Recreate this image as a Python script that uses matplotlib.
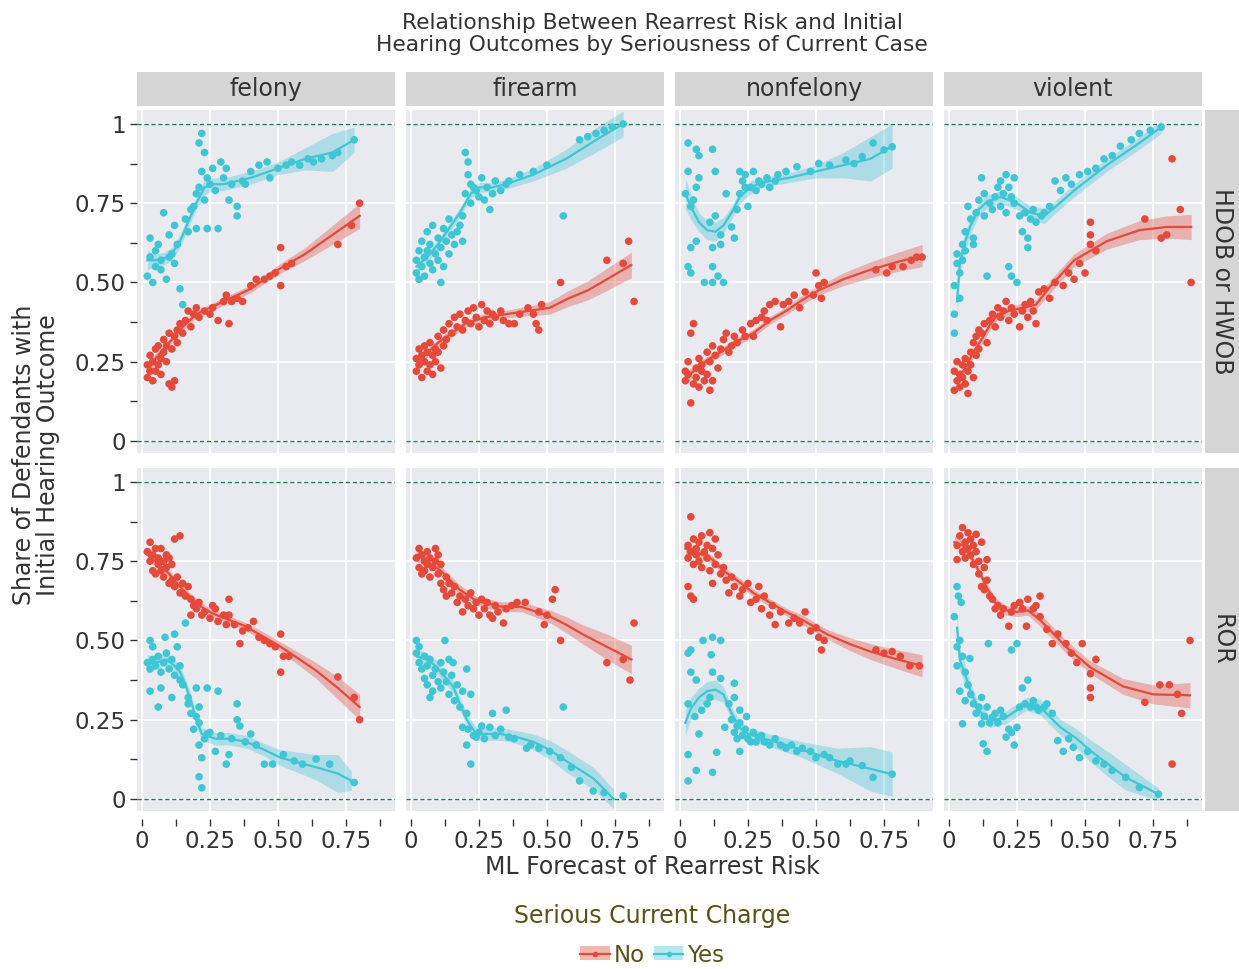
import numpy as np
import matplotlib
matplotlib.use('Agg')
import matplotlib.pyplot as plt
from matplotlib.patches import Patch
from matplotlib.lines import Line2D
from matplotlib.legend_handler import HandlerTuple

######## facets
charges = ['felony', 'firearm', 'nonfelony', 'violent']
outcomes = ['HDOB or HWOB', 'ROR']
groups = ['No', 'Yes']

x_ticks = [0, 0.25, 0.5, 0.75]
x_ticklabels = ['0', '0.25', '0.50', '0.75']
y_ticks = [0, 0.25, 0.5, 0.75, 1]
y_ticklabels = ['0', '0.25', '0.50', '0.75', '1']

######## scatter points (x = forecast, y = share), one list per panel / group
felony_hdob_no = [(0.02,0.20),(0.02,0.24),(0.03,0.22),(0.03,0.27),(0.04,0.19),(0.04,0.25),(0.05,0.29),(0.05,0.22),
    (0.06,0.24),(0.06,0.30),(0.07,0.21),(0.07,0.26),(0.08,0.28),(0.08,0.32),(0.09,0.25),(0.09,0.30),(0.10,0.18),
    (0.10,0.34),(0.11,0.17),(0.11,0.29),(0.12,0.33),(0.12,0.19),(0.13,0.35),(0.13,0.31),(0.14,0.37),(0.15,0.34),
    (0.16,0.38),(0.17,0.41),(0.18,0.36),(0.19,0.40),(0.20,0.42),(0.21,0.39),(0.23,0.41),(0.25,0.40),(0.26,0.42),
    (0.28,0.38),(0.30,0.44),(0.31,0.46),(0.32,0.37),(0.33,0.44),(0.35,0.45),(0.37,0.44),(0.40,0.49),(0.42,0.51),
    (0.45,0.51),(0.47,0.52),(0.49,0.53),(0.51,0.61),(0.51,0.49),(0.53,0.55),(0.55,0.56),(0.72,0.62),(0.77,0.68),
    (0.80,0.75)]
felony_hdob_yes = [(0.02,0.52),(0.03,0.58),(0.03,0.64),(0.04,0.50),(0.05,0.60),(0.05,0.55),(0.06,0.62),(0.07,0.57),
    (0.07,0.54),(0.08,0.72),(0.09,0.51),(0.10,0.58),(0.10,0.65),(0.11,0.59),(0.12,0.68),(0.12,0.56),(0.13,0.62),
    (0.14,0.48),(0.15,0.43),(0.16,0.70),(0.17,0.66),(0.18,0.73),(0.19,0.74),(0.20,0.78),(0.20,0.67),(0.21,0.94),
    (0.21,0.80),(0.22,0.97),(0.22,0.85),(0.23,0.91),(0.23,0.76),(0.24,0.83),(0.24,0.67),(0.25,0.81),(0.26,0.86),
    (0.27,0.79),(0.28,0.67),(0.29,0.88),(0.30,0.83),(0.31,0.86),(0.32,0.76),(0.33,0.81),(0.35,0.71),(0.35,0.74),
    (0.37,0.82),(0.38,0.81),(0.40,0.85),(0.43,0.87),(0.46,0.88),(0.47,0.83),(0.50,0.86),(0.53,0.87),(0.55,0.88),
    (0.58,0.87),(0.61,0.89),(0.63,0.88),(0.66,0.89),(0.70,0.90),(0.72,0.91),(0.78,0.95)]
firearm_hdob_no = [(0.02,0.26),(0.02,0.22),(0.03,0.29),(0.03,0.24),(0.04,0.20),(0.04,0.27),(0.05,0.25),(0.05,0.30),
    (0.06,0.22),(0.06,0.28),(0.07,0.24),(0.07,0.31),(0.08,0.21),(0.08,0.27),(0.09,0.29),(0.09,0.25),(0.10,0.33),
    (0.10,0.28),(0.11,0.23),(0.12,0.30),(0.12,0.35),(0.13,0.32),(0.14,0.37),(0.15,0.34),(0.16,0.39),(0.17,0.36),
    (0.18,0.40),(0.19,0.35),(0.20,0.38),(0.21,0.41),(0.22,0.37),(0.23,0.42),(0.24,0.39),(0.25,0.36),(0.26,0.43),
    (0.27,0.38),(0.28,0.41),(0.29,0.37),(0.30,0.40),(0.31,0.39),(0.33,0.41),(0.34,0.38),(0.36,0.37),(0.38,0.37),
    (0.40,0.40),(0.43,0.42),(0.45,0.40),(0.46,0.37),(0.47,0.35),(0.48,0.43),(0.55,0.50),(0.72,0.57),(0.78,0.56),
    (0.80,0.63),(0.82,0.44)]
firearm_hdob_yes = [(0.02,0.53),(0.02,0.57),(0.03,0.60),(0.03,0.51),(0.04,0.55),(0.04,0.63),(0.05,0.58),(0.05,0.52),
    (0.06,0.66),(0.06,0.60),(0.07,0.56),(0.07,0.62),(0.08,0.68),(0.08,0.54),(0.09,0.59),(0.10,0.64),(0.10,0.57),
    (0.11,0.50),(0.11,0.61),(0.12,0.67),(0.12,0.55),(0.13,0.63),(0.14,0.70),(0.14,0.59),(0.15,0.65),(0.16,0.62),
    (0.17,0.66),(0.18,0.68),(0.19,0.71),(0.19,0.63),(0.20,0.78),(0.20,0.91),(0.21,0.88),(0.21,0.84),(0.22,0.75),
    (0.22,0.81),(0.23,0.80),(0.24,0.79),(0.25,0.77),(0.26,0.83),(0.27,0.76),(0.28,0.80),(0.29,0.73),(0.30,0.78),
    (0.31,0.82),(0.33,0.79),(0.35,0.81),(0.36,0.82),(0.40,0.84),(0.45,0.85),(0.50,0.87),(0.56,0.71),(0.62,0.95),
    (0.65,0.96),(0.68,0.97),(0.71,0.98),(0.74,0.99),(0.78,1.00)]
nonfelony_hdob_no = [(0.02,0.22),(0.02,0.19),(0.03,0.25),(0.03,0.21),(0.04,0.12),(0.04,0.34),(0.05,0.37),(0.05,0.18),
    (0.06,0.23),(0.06,0.20),(0.07,0.26),(0.07,0.17),(0.08,0.22),(0.08,0.24),(0.09,0.19),(0.10,0.28),(0.10,0.21),
    (0.11,0.16),(0.11,0.25),(0.12,0.30),(0.12,0.19),(0.13,0.27),(0.14,0.23),(0.15,0.29),(0.16,0.32),(0.17,0.34),
    (0.18,0.28),(0.19,0.30),(0.20,0.33),(0.21,0.31),(0.23,0.35),(0.24,0.33),(0.26,0.37),(0.27,0.33),(0.28,0.38),
    (0.30,0.39),(0.31,0.41),(0.32,0.38),(0.33,0.43),(0.35,0.44),(0.37,0.36),(0.38,0.43),(0.40,0.44),(0.42,0.46),
    (0.44,0.42),(0.46,0.47),(0.49,0.46),(0.50,0.53),(0.51,0.49),(0.52,0.45),(0.53,0.50),(0.72,0.54),(0.76,0.53),
    (0.78,0.55),(0.82,0.55),(0.85,0.57),(0.87,0.58),(0.89,0.58)]
nonfelony_hdob_yes = [(0.03,0.94),(0.06,0.92),(0.07,0.90),(0.12,0.92),(0.03,0.85),(0.07,0.83),(0.13,0.85),(0.02,0.78),
    (0.06,0.80),(0.05,0.76),(0.17,0.78),(0.04,0.74),(0.11,0.69),(0.13,0.71),(0.15,0.65),(0.04,0.61),(0.06,0.63),
    (0.12,0.61),(0.15,0.62),(0.20,0.64),(0.03,0.55),(0.04,0.53),(0.09,0.50),(0.12,0.50),(0.14,0.52),(0.16,0.50),
    (0.12,0.55),(0.19,0.675),(0.21,0.73),(0.22,0.85),(0.23,0.82),(0.24,0.80),(0.25,0.74),(0.27,0.85),(0.29,0.82),
    (0.32,0.83),(0.36,0.84),(0.39,0.85),(0.43,0.865),(0.48,0.85),(0.51,0.875),(0.55,0.87),(0.61,0.886),(0.64,0.875),
    (0.67,0.897),(0.71,0.94),(0.75,0.918),(0.78,0.928),(0.22,0.78),(0.24,0.84),(0.26,0.80),(0.28,0.79),(0.30,0.81),
    (0.33,0.80),(0.35,0.82)]
violent_hdob_no = [(0.02,0.16),(0.02,0.22),(0.03,0.19),(0.03,0.25),(0.04,0.21),(0.04,0.17),(0.05,0.24),(0.05,0.20),
    (0.06,0.18),(0.06,0.26),(0.07,0.22),(0.07,0.15),(0.08,0.24),(0.08,0.28),(0.09,0.20),(0.09,0.31),(0.10,0.27),
    (0.10,0.33),(0.11,0.35),(0.11,0.29),(0.12,0.34),(0.13,0.37),(0.14,0.31),(0.15,0.38),(0.16,0.40),(0.17,0.36),
    (0.18,0.42),(0.19,0.39),(0.20,0.41),(0.21,0.44),(0.22,0.38),(0.23,0.42),(0.24,0.40),(0.26,0.36),(0.27,0.41),
    (0.28,0.43),(0.29,0.39),(0.30,0.44),(0.31,0.41),(0.32,0.37),(0.33,0.47),(0.35,0.48),(0.37,0.45),(0.39,0.50),
    (0.42,0.49),(0.44,0.53),(0.46,0.51),(0.48,0.56),(0.50,0.53),(0.52,0.69),(0.52,0.65),(0.52,0.62),(0.54,0.60),
    (0.72,0.70),(0.78,0.64),(0.80,0.65),(0.82,0.89),(0.85,0.73),(0.89,0.50)]
violent_hdob_yes = [(0.02,0.34),(0.02,0.40),(0.02,0.49),(0.03,0.56),(0.03,0.59),(0.04,0.53),(0.04,0.45),(0.05,0.62),
    (0.05,0.57),(0.06,0.66),(0.06,0.60),(0.07,0.74),(0.08,0.70),(0.09,0.64),(0.09,0.62),(0.10,0.72),(0.11,0.76),
    (0.12,0.83),(0.13,0.78),(0.13,0.71),(0.14,0.52),(0.15,0.75),(0.16,0.73),(0.17,0.77),(0.18,0.80),(0.19,0.74),
    (0.19,0.82),(0.20,0.78),(0.21,0.84),(0.21,0.72),(0.22,0.80),(0.22,0.55),(0.23,0.77),(0.23,0.52),(0.24,0.83),
    (0.24,0.75),(0.25,0.50),(0.26,0.71),(0.27,0.66),(0.28,0.72),(0.29,0.64),(0.29,0.61),(0.30,0.70),(0.31,0.73),
    (0.32,0.69),(0.34,0.71),(0.35,0.72),(0.37,0.74),(0.39,0.82),(0.41,0.79),(0.43,0.83),(0.45,0.81),(0.48,0.84),
    (0.51,0.85),(0.54,0.86),(0.57,0.89),(0.60,0.90),(0.63,0.93),(0.67,0.95),(0.70,0.97),(0.74,0.98),(0.78,0.99)]

felony_ror_no = [(0.02,0.78),(0.03,0.81),(0.03,0.75),(0.04,0.77),(0.04,0.72),(0.05,0.79),(0.05,0.71),(0.06,0.76),
    (0.06,0.74),(0.07,0.79),(0.07,0.72),(0.08,0.75),(0.08,0.70),(0.09,0.77),(0.09,0.73),(0.10,0.76),(0.10,0.68),
    (0.11,0.69),(0.11,0.74),(0.12,0.82),(0.12,0.67),(0.13,0.70),(0.14,0.83),(0.14,0.65),(0.15,0.68),(0.16,0.64),
    (0.17,0.67),(0.18,0.63),(0.18,0.58),(0.19,0.61),(0.20,0.60),(0.21,0.62),(0.22,0.58),(0.23,0.59),(0.25,0.57),
    (0.26,0.61),(0.27,0.60),(0.28,0.56),(0.30,0.58),(0.31,0.55),(0.32,0.63),(0.32,0.58),(0.34,0.55),(0.36,0.49),
    (0.37,0.53),(0.39,0.54),(0.41,0.56),(0.43,0.51),(0.45,0.50),(0.47,0.49),(0.49,0.48),(0.51,0.52),(0.51,0.40),
    (0.52,0.45),(0.54,0.45),(0.72,0.385),(0.78,0.32),(0.80,0.25)]
felony_ror_yes = [(0.03,0.50),(0.04,0.48),(0.085,0.51),(0.13,0.48),(0.12,0.52),(0.16,0.555),(0.03,0.34),(0.06,0.29),
    (0.11,0.32),(0.07,0.35),(0.14,0.375),(0.17,0.32),(0.20,0.35),(0.21,0.29),(0.24,0.35),(0.28,0.34),(0.35,0.30),
    (0.35,0.25),(0.21,0.24),(0.21,0.17),(0.22,0.13),(0.21,0.07),(0.22,0.035),(0.24,0.205),(0.27,0.15),(0.31,0.11),
    (0.32,0.14),(0.36,0.23),(0.40,0.205),(0.45,0.11),(0.48,0.11),(0.56,0.12),(0.59,0.11),(0.64,0.126),(0.69,0.11),
    (0.78,0.052),(0.02,0.43),(0.03,0.41),(0.04,0.44),(0.05,0.42),(0.06,0.45),(0.07,0.40),(0.08,0.43),(0.09,0.46),
    (0.10,0.41),(0.11,0.44),(0.12,0.39),(0.14,0.42),(0.15,0.36),(0.17,0.30),(0.18,0.27),(0.19,0.22),(0.20,0.26),
    (0.23,0.19),(0.25,0.21),(0.29,0.20),(0.33,0.19),(0.38,0.18),(0.42,0.17),(0.52,0.14)]
firearm_ror_no = [(0.02,0.76),(0.03,0.79),(0.03,0.73),(0.04,0.77),(0.04,0.71),(0.05,0.75),(0.05,0.72),(0.06,0.78),
    (0.06,0.74),(0.07,0.70),(0.07,0.76),(0.08,0.73),(0.09,0.79),(0.09,0.75),(0.10,0.71),(0.10,0.77),(0.11,0.68),
    (0.11,0.74),(0.12,0.66),(0.13,0.70),(0.13,0.64),(0.14,0.68),(0.15,0.65),(0.16,0.67),(0.17,0.62),(0.18,0.64),
    (0.19,0.59),(0.20,0.63),(0.21,0.61),(0.22,0.65),(0.23,0.60),(0.24,0.62),(0.25,0.58),(0.26,0.63),(0.27,0.60),
    (0.28,0.62),(0.29,0.58),(0.30,0.57),(0.31,0.61),(0.32,0.59),(0.34,0.555),(0.35,0.60),(0.37,0.61),(0.39,0.62),
    (0.42,0.62),(0.47,0.59),(0.49,0.55),(0.50,0.58),(0.52,0.63),(0.53,0.66),(0.55,0.50),(0.72,0.43),(0.78,0.44),
    (0.805,0.375),(0.82,0.555)]
firearm_ror_yes = [(0.02,0.50),(0.125,0.50),(0.14,0.44),(0.155,0.43),(0.07,0.32),(0.205,0.41),(0.22,0.33),(0.205,0.27),
    (0.19,0.226),(0.205,0.17),(0.22,0.11),(0.24,0.195),(0.30,0.27),(0.35,0.28),(0.29,0.226),(0.36,0.195),(0.425,0.16),
    (0.51,0.15),(0.56,0.29),(0.62,0.057),(0.67,0.025),(0.71,0.02),(0.78,0.01),(0.02,0.46),(0.03,0.43),(0.03,0.48),
    (0.04,0.41),(0.05,0.45),(0.05,0.38),(0.06,0.42),(0.06,0.36),(0.07,0.44),(0.08,0.39),(0.08,0.34),(0.09,0.41),
    (0.10,0.37),(0.11,0.43),(0.11,0.35),(0.12,0.40),(0.13,0.37),(0.14,0.33),(0.15,0.39),(0.16,0.31),(0.17,0.36),
    (0.18,0.29),(0.19,0.34),(0.21,0.22),(0.23,0.20),(0.25,0.21),(0.26,0.23),(0.27,0.19),(0.31,0.20),(0.33,0.22),
    (0.38,0.19),(0.44,0.17),(0.47,0.16),(0.55,0.13),(0.59,0.10)]
nonfelony_ror_no = [(0.03,0.80),(0.03,0.76),(0.04,0.89),(0.04,0.78),(0.05,0.82),(0.05,0.74),(0.06,0.79),(0.06,0.77),
    (0.07,0.81),(0.07,0.75),(0.08,0.83),(0.08,0.73),(0.09,0.78),(0.10,0.80),(0.10,0.76),(0.11,0.84),(0.11,0.72),
    (0.12,0.79),(0.12,0.68),(0.13,0.82),(0.13,0.74),(0.14,0.77),(0.15,0.71),(0.16,0.73),(0.17,0.69),(0.18,0.65),
    (0.19,0.70),(0.20,0.67),(0.22,0.64),(0.23,0.66),(0.25,0.68),(0.26,0.62),(0.28,0.63),(0.29,0.67),(0.30,0.60),
    (0.31,0.64),(0.33,0.58),(0.34,0.61),(0.35,0.55),(0.37,0.59),(0.40,0.555),(0.42,0.57),(0.44,0.555),(0.46,0.59),
    (0.48,0.53),(0.50,0.54),(0.51,0.51),(0.52,0.47),(0.53,0.50),(0.72,0.47),(0.75,0.46),(0.78,0.465),(0.81,0.45),
    (0.845,0.42),(0.88,0.42),(0.03,0.67),(0.04,0.64),(0.05,0.63)]
nonfelony_ror_yes = [(0.03,0.46),(0.04,0.47),(0.085,0.50),(0.12,0.51),(0.15,0.50),(0.115,0.455),(0.04,0.40),(0.06,0.375),
    (0.12,0.40),(0.15,0.38),(0.20,0.365),(0.03,0.30),(0.055,0.26),(0.07,0.205),(0.03,0.14),(0.06,0.09),(0.03,0.057),
    (0.12,0.084),(0.135,0.147),(0.11,0.32),(0.165,0.226),(0.20,0.32),(0.22,0.28),(0.245,0.26),(0.21,0.23),(0.22,0.15),
    (0.26,0.18),(0.29,0.195),(0.33,0.17),(0.39,0.16),(0.45,0.16),(0.50,0.13),(0.58,0.11),(0.625,0.12),(0.67,0.105),
    (0.71,0.068),(0.78,0.078),(0.18,0.30),(0.19,0.25),(0.20,0.21),(0.21,0.19),(0.22,0.24),(0.23,0.20),(0.24,0.22),
    (0.25,0.19),(0.27,0.21),(0.28,0.18),(0.30,0.20),(0.31,0.18),(0.35,0.19),(0.37,0.17),(0.41,0.17),(0.43,0.15),
    (0.48,0.15),(0.53,0.14),(0.55,0.13),(0.61,0.11),(0.08,0.28),(0.10,0.30)]
violent_ror_no = [(0.03,0.80),(0.03,0.755),(0.04,0.83),(0.05,0.856),(0.05,0.78),(0.06,0.81),(0.06,0.76),(0.07,0.84),
    (0.07,0.79),(0.08,0.82),(0.08,0.77),(0.09,0.80),(0.09,0.74),(0.10,0.835),(0.10,0.78),(0.11,0.75),(0.11,0.71),
    (0.12,0.81),(0.12,0.67),(0.13,0.73),(0.13,0.66),(0.14,0.755),(0.14,0.69),(0.15,0.64),(0.16,0.63),(0.17,0.60),
    (0.18,0.61),(0.19,0.58),(0.20,0.60),(0.22,0.545),(0.23,0.59),(0.24,0.61),(0.26,0.62),(0.27,0.60),(0.29,0.63),
    (0.285,0.545),(0.31,0.60),(0.32,0.61),(0.335,0.64),(0.335,0.575),(0.36,0.535),(0.38,0.49),(0.40,0.52),(0.43,0.49),
    (0.45,0.46),(0.47,0.43),(0.49,0.49),(0.52,0.395),(0.52,0.35),(0.52,0.32),(0.54,0.44),(0.72,0.305),(0.775,0.36),
    (0.81,0.36),(0.82,0.11),(0.84,0.33),(0.855,0.27),(0.886,0.50)]
violent_ror_yes = [(0.03,0.67),(0.035,0.64),(0.02,0.575),(0.045,0.62),(0.04,0.50),(0.03,0.48),(0.145,0.49),(0.03,0.42),
    (0.05,0.45),(0.077,0.443),(0.04,0.34),(0.06,0.31),(0.05,0.237),(0.12,0.32),(0.14,0.29),(0.16,0.258),(0.12,0.237),
    (0.126,0.174),(0.14,0.15),(0.19,0.28),(0.21,0.195),(0.24,0.17),(0.25,0.226),(0.23,0.47),(0.25,0.49),(0.27,0.35),
    (0.29,0.375),(0.30,0.29),(0.32,0.29),(0.36,0.30),(0.38,0.27),(0.40,0.184),(0.42,0.15),(0.457,0.163),(0.48,0.13),
    (0.54,0.12),(0.60,0.09),(0.65,0.068),(0.70,0.036),(0.77,0.015),(0.06,0.40),(0.07,0.36),(0.08,0.33),(0.09,0.30),
    (0.10,0.27),(0.11,0.29),(0.13,0.26),(0.15,0.24),(0.17,0.27),(0.18,0.24),(0.20,0.26),(0.22,0.22),(0.23,0.21),
    (0.26,0.29),(0.28,0.30),(0.31,0.31),(0.33,0.28),(0.35,0.29),(0.44,0.19),(0.51,0.15),(0.57,0.11)]

######## smoothed fit (x, fitted share, half width of the band)
felony_hdob_no_fit = [(0.02,0.22,0.02),(0.05,0.26,0.015),(0.08,0.29,0.012),(0.11,0.32,0.012),(0.15,0.36,0.012),
    (0.20,0.40,0.012),(0.25,0.42,0.012),(0.30,0.44,0.012),(0.40,0.48,0.012),(0.50,0.54,0.015),(0.60,0.59,0.02),
    (0.70,0.65,0.03),(0.80,0.71,0.04)]
felony_hdob_yes_fit = [(0.02,0.57,0.03),(0.05,0.57,0.02),(0.08,0.575,0.02),(0.11,0.59,0.02),(0.14,0.63,0.02),
    (0.17,0.69,0.02),(0.20,0.75,0.02),(0.23,0.80,0.025),(0.26,0.81,0.02),(0.30,0.81,0.02),(0.35,0.82,0.02),
    (0.40,0.83,0.02),(0.50,0.86,0.02),(0.60,0.89,0.035),(0.70,0.91,0.06),(0.78,0.95,0.04)]
firearm_hdob_no_fit = [(0.02,0.24,0.02),(0.05,0.27,0.012),(0.10,0.31,0.012),(0.15,0.34,0.012),(0.20,0.37,0.012),
    (0.27,0.39,0.012),(0.35,0.40,0.012),(0.43,0.41,0.015),(0.51,0.42,0.02),(0.58,0.45,0.025),(0.65,0.475,0.03),
    (0.72,0.51,0.035),(0.81,0.555,0.04)]
firearm_hdob_yes_fit = [(0.02,0.55,0.025),(0.06,0.58,0.015),(0.10,0.62,0.015),(0.14,0.67,0.015),(0.18,0.72,0.015),
    (0.22,0.78,0.015),(0.25,0.80,0.015),(0.30,0.80,0.015),(0.35,0.81,0.015),(0.45,0.84,0.02),(0.57,0.89,0.03),
    (0.70,0.96,0.04),(0.78,1.00,0.04)]
nonfelony_hdob_no_fit = [(0.02,0.20,0.02),(0.05,0.22,0.015),(0.10,0.255,0.012),(0.15,0.28,0.012),(0.20,0.31,0.012),
    (0.27,0.34,0.012),(0.33,0.38,0.012),(0.39,0.41,0.012),(0.45,0.445,0.015),(0.51,0.475,0.015),(0.60,0.51,0.02),
    (0.70,0.54,0.025),(0.80,0.565,0.03),(0.89,0.585,0.035)]
nonfelony_hdob_yes_fit = [(0.02,0.78,0.05),(0.04,0.74,0.04),(0.07,0.69,0.03),(0.10,0.665,0.03),(0.13,0.66,0.03),
    (0.16,0.68,0.025),(0.19,0.72,0.02),(0.22,0.77,0.02),(0.26,0.80,0.02),(0.30,0.815,0.015),(0.40,0.83,0.015),
    (0.50,0.85,0.02),(0.60,0.87,0.04),(0.70,0.89,0.07),(0.78,0.93,0.07)]
violent_hdob_no_fit = [(0.03,0.19,0.02),(0.06,0.23,0.015),(0.09,0.28,0.015),(0.12,0.32,0.015),(0.15,0.365,0.015),
    (0.18,0.40,0.015),(0.22,0.41,0.015),(0.27,0.42,0.015),(0.32,0.43,0.015),(0.37,0.485,0.02),(0.46,0.57,0.02),
    (0.58,0.63,0.025),(0.70,0.665,0.03),(0.80,0.675,0.035),(0.89,0.675,0.04)]
violent_hdob_yes_fit = [(0.03,0.44,0.04),(0.04,0.56,0.035),(0.06,0.63,0.03),(0.08,0.68,0.025),(0.11,0.73,0.02),
    (0.14,0.755,0.02),(0.19,0.77,0.02),(0.25,0.75,0.02),(0.30,0.72,0.02),(0.35,0.71,0.025),(0.38,0.73,0.02),
    (0.46,0.79,0.02),(0.58,0.87,0.02),(0.70,0.94,0.02),(0.78,0.99,0.02)]

felony_ror_no_fit = [(0.02,0.77,0.02),(0.05,0.75,0.015),(0.10,0.71,0.012),(0.14,0.67,0.012),(0.18,0.635,0.012),
    (0.22,0.605,0.012),(0.26,0.585,0.012),(0.32,0.565,0.012),(0.38,0.545,0.012),(0.45,0.51,0.015),(0.51,0.48,0.015),
    (0.58,0.44,0.02),(0.64,0.405,0.025),(0.72,0.35,0.035),(0.80,0.29,0.04)]
felony_ror_yes_fit = [(0.02,0.425,0.03),(0.05,0.43,0.02),(0.09,0.44,0.02),(0.12,0.42,0.02),(0.14,0.40,0.02),
    (0.16,0.36,0.02),(0.18,0.31,0.02),(0.20,0.25,0.02),(0.22,0.205,0.02),(0.27,0.19,0.02),(0.32,0.19,0.02),
    (0.385,0.18,0.02),(0.45,0.155,0.02),(0.51,0.13,0.025),(0.64,0.10,0.04),(0.72,0.08,0.06),(0.77,0.057,0.03)]
firearm_ror_no_fit = [(0.02,0.77,0.02),(0.06,0.75,0.015),(0.11,0.72,0.015),(0.15,0.685,0.015),(0.18,0.66,0.015),
    (0.24,0.625,0.015),(0.33,0.607,0.015),(0.41,0.605,0.015),(0.51,0.576,0.02),(0.57,0.55,0.025),(0.63,0.52,0.03),
    (0.72,0.48,0.04),(0.81,0.44,0.045)]
firearm_ror_yes_fit = [(0.02,0.45,0.025),(0.06,0.44,0.02),(0.09,0.42,0.02),(0.12,0.39,0.02),(0.156,0.353,0.02),
    (0.18,0.30,0.02),(0.205,0.25,0.02),(0.24,0.205,0.02),(0.28,0.205,0.02),(0.33,0.205,0.02),(0.39,0.195,0.02),
    (0.45,0.18,0.025),(0.51,0.155,0.03),(0.57,0.12,0.035),(0.67,0.065,0.035),(0.745,0.0,0.03)]
nonfelony_ror_no_fit = [(0.02,0.79,0.02),(0.06,0.78,0.015),(0.12,0.755,0.012),(0.16,0.72,0.012),(0.21,0.69,0.012),
    (0.27,0.65,0.012),(0.33,0.62,0.012),(0.39,0.59,0.012),(0.45,0.565,0.015),(0.54,0.52,0.015),(0.62,0.49,0.02),
    (0.70,0.465,0.025),(0.80,0.44,0.03),(0.89,0.42,0.035)]
nonfelony_ror_yes_fit = [(0.02,0.24,0.04),(0.04,0.285,0.035),(0.07,0.32,0.03),(0.10,0.34,0.03),(0.13,0.345,0.03),
    (0.16,0.33,0.025),(0.19,0.27,0.02),(0.22,0.225,0.02),(0.25,0.205,0.02),(0.33,0.185,0.02),(0.45,0.155,0.025),
    (0.58,0.12,0.04),(0.70,0.095,0.07),(0.78,0.078,0.07)]
violent_ror_no_fit = [(0.02,0.81,0.02),(0.05,0.80,0.015),(0.08,0.765,0.015),(0.11,0.72,0.015),(0.14,0.665,0.015),
    (0.17,0.62,0.015),(0.21,0.595,0.015),(0.25,0.59,0.015),(0.29,0.595,0.015),(0.335,0.565,0.02),(0.38,0.525,0.02),
    (0.43,0.48,0.02),(0.52,0.415,0.02),(0.64,0.355,0.025),(0.75,0.33,0.03),(0.886,0.327,0.04)]
violent_ror_yes_fit = [(0.03,0.54,0.04),(0.04,0.44,0.035),(0.06,0.39,0.03),(0.08,0.34,0.025),(0.11,0.28,0.02),
    (0.15,0.245,0.02),(0.21,0.258,0.02),(0.25,0.28,0.02),(0.285,0.30,0.02),(0.335,0.29,0.025),(0.37,0.26,0.025),
    (0.41,0.226,0.025),(0.47,0.19,0.03),(0.52,0.152,0.035),(0.60,0.10,0.04),(0.65,0.068,0.04),(0.77,0.015,0.02)]

points = {
    ('HDOB or HWOB', 'felony'): (felony_hdob_no, felony_hdob_yes),
    ('HDOB or HWOB', 'firearm'): (firearm_hdob_no, firearm_hdob_yes),
    ('HDOB or HWOB', 'nonfelony'): (nonfelony_hdob_no, nonfelony_hdob_yes),
    ('HDOB or HWOB', 'violent'): (violent_hdob_no, violent_hdob_yes),
    ('ROR', 'felony'): (felony_ror_no, felony_ror_yes),
    ('ROR', 'firearm'): (firearm_ror_no, firearm_ror_yes),
    ('ROR', 'nonfelony'): (nonfelony_ror_no, nonfelony_ror_yes),
    ('ROR', 'violent'): (violent_ror_no, violent_ror_yes),
}
fits = {
    ('HDOB or HWOB', 'felony'): (felony_hdob_no_fit, felony_hdob_yes_fit),
    ('HDOB or HWOB', 'firearm'): (firearm_hdob_no_fit, firearm_hdob_yes_fit),
    ('HDOB or HWOB', 'nonfelony'): (nonfelony_hdob_no_fit, nonfelony_hdob_yes_fit),
    ('HDOB or HWOB', 'violent'): (violent_hdob_no_fit, violent_hdob_yes_fit),
    ('ROR', 'felony'): (felony_ror_no_fit, felony_ror_yes_fit),
    ('ROR', 'firearm'): (firearm_ror_no_fit, firearm_ror_yes_fit),
    ('ROR', 'nonfelony'): (nonfelony_ror_no_fit, nonfelony_ror_yes_fit),
    ('ROR', 'violent'): (violent_ror_no_fit, violent_ror_yes_fit),
}

###########################################################################################
############### PLOT
colors = {'No': '#e5493a', 'Yes': '#3fc6d5'}
txt_col = '#333333'
leg_col = '#5a5217'
panel_bg = '#e9e9f0'
strip_bg = '#d5d5d5'

W, H = 1239, 969
fig = plt.figure(figsize=(W / 100, H / 100), dpi=100)
plt.rcParams['font.family'] = 'DejaVu Sans'


def box(left, top, right, bottom):
    return [left / W, 1 - bottom / H, (right - left) / W, (bottom - top) / H]


col_left = [137, 406, 675, 944]
panel_w = 258
row_top = [110, 468]
panel_h = 343

for r, outcome in enumerate(outcomes):
    for c, charge in enumerate(charges):
        l = col_left[c]
        t = row_top[r]
        ax = fig.add_axes(box(l, t, l + panel_w, t + panel_h))
        ax.set_facecolor(panel_bg)
        for sp in ax.spines.values():
            sp.set_visible(False)
        ax.set_xlim(-0.018, 0.93)
        ax.set_ylim(-0.038, 1.044)

        # white grid
        for gx in x_ticks:
            ax.axvline(gx, color='white', lw=1.3, zorder=0)
        for gy in y_ticks:
            ax.axhline(gy, color='white', lw=1.3, zorder=0)

        ax.axhline(0, color='#1f7a55', lw=1.0, ls=(0, (3, 2)), zorder=1)
        ax.axhline(1, color='#1f7a55', lw=1.0, ls=(0, (3, 2)), zorder=1)

        for g, pts, fit in zip(groups, points[(outcome, charge)], fits[(outcome, charge)]):
            px = [p[0] for p in pts]
            py = [p[1] for p in pts]
            ax.scatter(px, py, s=30, color=colors[g], edgecolors='none', zorder=3)
            fx = np.array([f[0] for f in fit])
            fy = np.array([f[1] for f in fit])
            fh = np.array([f[2] for f in fit])
            ax.fill_between(fx, fy - fh, fy + fh, color=colors[g], alpha=0.35, lw=0, zorder=4)
            ax.plot(fx, fy, color=colors[g], lw=1.6, zorder=5)

        ax.set_xticks(x_ticks)
        ax.set_xticks([0.125, 0.375, 0.625, 0.875], minor=True)
        ax.set_yticks(y_ticks)
        ax.set_yticks([0.125, 0.375, 0.625, 0.875], minor=True)
        ax.spines['bottom'].set_position(('outward', 6))
        ax.tick_params(which='both', direction='out', length=5, width=1.0, color=txt_col,
                       labelsize=16.5, labelcolor=txt_col, pad=3)
        if c == 0:
            ax.set_yticklabels(y_ticklabels)
        else:
            ax.tick_params(axis='y', which='both', left=False, labelleft=False)
        if r == 1:
            ax.set_xticklabels(x_ticklabels)
        else:
            ax.tick_params(axis='x', which='both', bottom=False, labelbottom=False)

        # facet strips
        if r == 0:
            sax = fig.add_axes(box(l, 72, l + panel_w, 106))
            sax.set_facecolor(strip_bg)
            sax.set_xticks([])
            sax.set_yticks([])
            for sp in sax.spines.values():
                sp.set_visible(False)
            sax.text(0.5, 0.5, charge, ha='center', va='center', fontsize=17, color=txt_col,
                     transform=sax.transAxes)
        if c == 3:
            rax = fig.add_axes(box(1205, t, 1245, t + panel_h))
            rax.set_facecolor(strip_bg)
            rax.set_xticks([])
            rax.set_yticks([])
            for sp in rax.spines.values():
                sp.set_visible(False)
            rax.text(0.42, 0.5, outcome, ha='center', va='center', fontsize=17, color=txt_col,
                     rotation=-90, transform=rax.transAxes)

fig.text(652 / W, 1 - 34 / H, 'Relationship Between Rearrest Risk and Initial\nHearing Outcomes by Seriousness of Current Case',
         ha='center', va='center', fontsize=15.7, color=txt_col, linespacing=1.1)
fig.text(652 / W, 1 - 867 / H, 'ML Forecast of Rearrest Risk', ha='center', va='center',
         fontsize=17, color=txt_col)
fig.text(36 / W, 1 - 455 / H, 'Share of Defendants with\nInitial Hearing Outcome', ha='center', va='center',
         rotation=90, fontsize=17, color=txt_col, linespacing=1.05)

### legend
fig.text(652 / W, 1 - 916 / H, 'Serious Current Charge', ha='center', va='center', fontsize=17, color=leg_col)
handles = []
for g in groups:
    band = Patch(facecolor=colors[g], alpha=0.4, edgecolor='none')
    line = Line2D([], [], color=colors[g], lw=1.6, marker='o', markersize=4, markeredgewidth=0)
    handles.append((band, line))
leg = fig.legend(handles, groups, handler_map={tuple: HandlerTuple(ndivide=1)},
                 loc='center', bbox_to_anchor=(652 / W, 1 - 955 / H), ncol=2, frameon=False,
                 fontsize=16.5, handlelength=1.3, handleheight=0.55, columnspacing=0.4, handletextpad=0.15)
for t in leg.get_texts():
    t.set_color(leg_col)

fig.savefig('out.png', dpi=100)
plt.close()
